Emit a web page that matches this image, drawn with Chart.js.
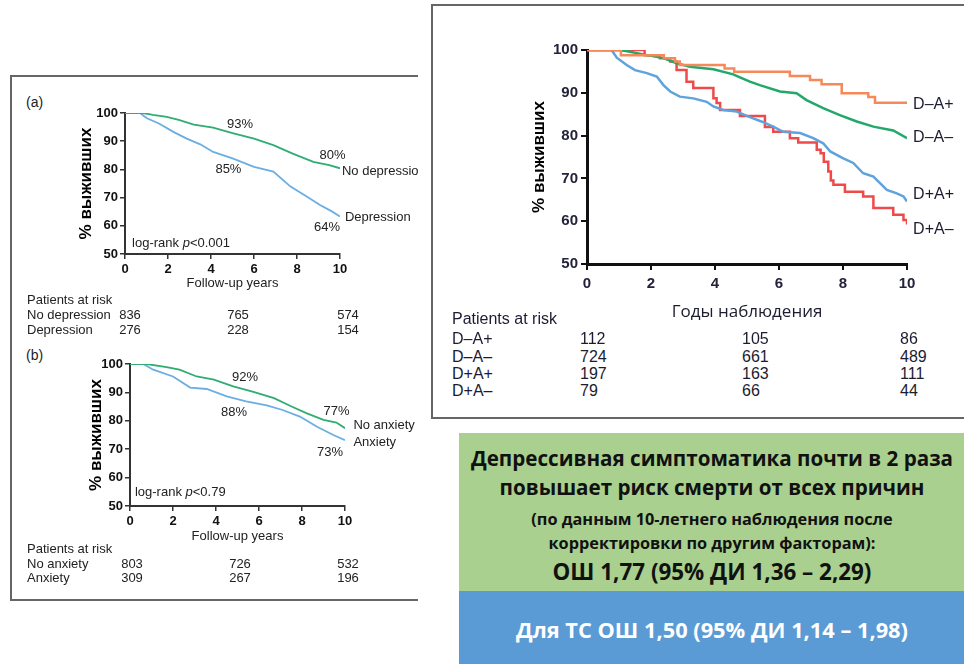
<!DOCTYPE html>
<html lang="ru">
<head>
<meta charset="utf-8">
<script src="https://cdn.jsdelivr.net/npm/chart.js@4.4.0/dist/chart.umd.min.js"></script>
<style>
  body { margin: 0; width: 964px; height: 664px; position: relative; overflow: hidden; background: #fff;
         font-family: 'Liberation Sans', Arial, sans-serif; color: #222; }
  canvas { position: absolute; }
  .t { position: absolute; white-space: nowrap; line-height: 1; }
  .panel { position: absolute; box-sizing: border-box; border-color: #666; border-style: solid; border-width: 0; }
  .box { position: absolute; left: 459px; width: 505px; }
  .bx { font-family: 'Open Sans', 'Noto Sans', sans-serif; font-weight: bold; }
</style>
</head>
<body>

<div class="panel" style="left:10px; top:75px; width:408px; height:526px; border-top-width:2px; border-left-width:2px; border-bottom-width:2px;"></div>
<div class="panel" style="left:431px; top:4px; width:533px; height:415px; border-top-width:2px; border-left-width:2px; border-bottom-width:2px;"></div>

<div class="box" style="top:433px; height:158px; background:#a9d08e;"></div>
<div class="box" style="top:591px; height:73px; background:#5b9bd5;"></div>

<canvas id="chartA" width="358" height="200" style="left:60px; top:95px;"></canvas>
<canvas id="chartB" width="353" height="200" style="left:65px; top:345px;"></canvas>
<canvas id="chartC" width="444" height="295" style="left:520px; top:30px;"></canvas>

<script>
// ---- survival curves, [year, % alive] ----
// (a) depression
const noDepression = [[0,100],[0.85,100],[1.3,99.3],[1.94,98.6],[2.5,97.6],[3.2,95.9],[4.1,94.8],[5.0,92.9],[6.0,90.9],[6.9,88.6],[7.8,85.6],[8.76,82.7],[9.5,81.5],[10,80.4]];
const depression = [[0,100],[0.7,100],[1.0,98.2],[1.6,96.2],[2.25,93.3],[2.87,90.9],[3.5,88.9],[4.1,86.2],[5.0,83.9],[6.0,80.9],[6.9,79.2],[7.7,73.9],[8.45,70.4],[9.07,67.4],[9.6,65.2],[10,63.3]];

// (b) anxiety
const noAnxiety = [[0,100],[0.78,100],[1.7,98.9],[2.3,98.0],[3.1,95.6],[3.9,94.5],[4.8,92.1],[5.7,90.3],[6.7,88.0],[7.44,85.3],[8.2,82.7],[9.0,80.3],[9.6,79.4],[10,77.4]];
const anxiety = [[0,100],[0.62,100],[1.08,98.0],[2.0,95.6],[2.8,91.7],[3.57,91.2],[4.5,88.6],[5.4,86.8],[6.36,85.4],[7.1,83.8],[7.9,81.5],[8.7,77.9],[9.46,75.0],[10,73.2]];

// combined groups
const dMinusAPlus = [[0,100],[1.06,98.8],[2.4,98.1],[2.75,97.3],[2.9,96.5],[4.3,95.7],[4.6,94.9],[6.34,93.9],[6.97,93.0],[7.33,92.0],[7.96,89.9],[8.79,89.0],[9.0,87.7],[10,87.7]];
const dMinusAMinus = [[0,100],[1.03,100],[1.34,99.6],[1.87,98.8],[2.39,98.1],[2.8,96.9],[3.22,96.1],[3.95,95.5],[4.57,94.3],[4.78,93.6],[5.09,92.6],[5.4,91.8],[6.03,90.3],[6.55,89.9],[6.86,88.3],[7.38,86.4],[7.9,84.8],[8.43,83.3],[8.95,82.1],[9.57,81.2],[10,79.4]];
const dPlusAPlus = [[0,100],[0.77,100],[0.93,98.2],[1.24,96.5],[1.5,95.3],[1.87,94.6],[2.18,93.8],[2.39,91.8],[2.6,90.3],[2.9,89.1],[3.32,88.7],[3.74,87.9],[3.95,86.8],[4.26,86.0],[4.68,85.6],[5.09,84.3],[5.45,83.3],[5.82,82.1],[6.13,80.9],[6.66,80.6],[7.07,79.4],[7.38,78.2],[7.6,76.3],[8.01,74.7],[8.32,73.6],[8.63,71.2],[8.95,70.4],[9.37,67.3],[9.68,66.5],[9.89,65.8],[10,64.6]];
const dPlusAMinus = [[0,100],[1.8,98.8],[2.28,98.1],[2.6,97.3],[2.8,95.3],[3.11,92.6],[3.32,91.1],[3.95,88.7],[4.05,87.6],[4.16,86.0],[4.78,84.6],[5.56,82.0],[5.82,80.9],[6.34,79.4],[6.6,78.4],[7.18,76.7],[7.3,75.9],[7.4,73.9],[7.54,71.6],[7.62,69.5],[7.7,68.5],[8.06,66.9],[8.63,65.8],[8.95,63.1],[9.57,61.5],[9.89,60.3],[10,59.2]];

// patients at risk at 0, 5, 10 years
const riskNoDepression = [836, 765, 574];
const riskDepression = [276, 228, 154];
const riskNoAnxiety = [803, 726, 532];
const riskAnxiety = [309, 267, 196];
const riskDmAp = [112, 105, 86];
const riskDmAm = [724, 661, 489];
const riskDpAp = [197, 163, 111];
const riskDpAm = [79, 66, 44];

const ARIAL = "'Liberation Sans', Arial, sans-serif";

// draws the text labels that sit inside / next to the plot, in data coordinates
const kmLabels = {
    id: 'kmLabels',
    afterDatasetsDraw(chart, args, opts) {
        const ctx = chart.ctx;
        const xs = chart.scales.x, ys = chart.scales.y;
        ctx.save();
        ctx.fillStyle = opts.color;
        ctx.textBaseline = 'middle';
        ctx.textAlign = 'left';
        (opts.items || []).forEach(item => {
            const parts = item.parts || [{ t: item.text }];
            const fontFor = p => (p.italic ? 'italic ' : '') + opts.font;
            let w = 0;
            parts.forEach(p => { ctx.font = fontFor(p); w += ctx.measureText(p.t).width; });
            let px = xs.getPixelForValue(item.x);
            const py = ys.getPixelForValue(item.y);
            if (item.align === 'center') px -= w / 2;
            parts.forEach(p => {
                ctx.font = fontFor(p);
                ctx.fillText(p.t, px, py);
                px += ctx.measureText(p.t).width;
            });
        });
        ctx.restore();
    }
};

function kmChart(id, cfg) {
    const ctx = document.getElementById(id).getContext('2d');
    return new Chart(ctx, {
        type: 'line',
        data: {
            datasets: cfg.series.map(s => ({
                data: s.points.map(p => ({ x: p[0], y: p[1] })),
                borderColor: s.color,
                borderWidth: cfg.lineWidth,
                // KM step: keep the old value until the event time, then drop
                stepped: s.stepped ? 'before' : false,
                pointRadius: 0,
                tension: 0,
                fill: false
            }))
        },
        options: {
            responsive: false,
            animation: false,
            devicePixelRatio: 1,
            layout: { padding: cfg.padding },
            plugins: {
                legend: { display: false },
                tooltip: { enabled: false },
                kmLabels: { items: cfg.labels, font: cfg.labelFont, color: cfg.textColor }
            },
            scales: {
                x: {
                    type: 'linear', min: 0, max: 10,
                    ticks: { stepSize: 2, font: cfg.tickFont, color: cfg.tickColor, padding: cfg.xTickPad, maxRotation: 0 },
                    grid: { drawOnChartArea: false, tickLength: cfg.tickLen, color: cfg.axisColor, lineWidth: cfg.tickWidth },
                    border: { color: cfg.axisColor, width: cfg.axisWidth },
                    title: { display: true, text: cfg.xTitle, font: cfg.xTitleFont, color: cfg.textColor, padding: { top: 0, bottom: cfg.xTitlePad } },
                    afterFit: s => { s.height = cfg.xHeight; }
                },
                y: {
                    min: 50, max: 100,
                    ticks: { stepSize: 10, font: cfg.tickFont, color: cfg.tickColor, padding: cfg.yTickPad },
                    grid: { drawOnChartArea: false, tickLength: cfg.tickLen, color: cfg.axisColor, lineWidth: cfg.tickWidth },
                    border: { color: cfg.axisColor, width: cfg.axisWidth },
                    title: { display: true, text: '% выживших', font: cfg.yTitleFont, color: '#000', padding: { top: cfg.yTitlePad, bottom: 0 } },
                    afterFit: s => { s.width = cfg.yWidth; }
                }
            }
        },
        plugins: [kmLabels]
    });
}

const smallLeft = {
    lineWidth: 1.8,
    tickFont: { family: ARIAL, size: 13, weight: 'bold' },
    tickColor: '#111',
    textColor: '#222',
    axisColor: '#333',
    axisWidth: 2,
    tickWidth: 1.5,
    tickLen: 5,
    xTickPad: 3,
    yTickPad: 2,
    labelFont: '13px ' + ARIAL,
    xTitle: 'Follow-up years',
    xTitleFont: { family: ARIAL, size: 13 },
    yTitleFont: { family: ARIAL, size: 17, weight: 'bold' },
    yWidth: 65
};

kmChart('chartA', Object.assign({}, smallLeft, {
    padding: { left: 0, top: 18, right: 78, bottom: 0 },
    xHeight: 41, xTitlePad: 4, yTitlePad: 16,
    series: [
        { points: noDepression, color: '#2fad72' },
        { points: depression, color: '#6aaee3' }
    ],
    labels: [
        { text: '93%', x: 5.35, y: 96.1, align: 'center' },
        { text: '85%', x: 4.81, y: 80.1, align: 'center' },
        { text: '80%', x: 9.65, y: 85.1, align: 'center' },
        { text: 'No depression', x: 10.09, y: 79.4 },
        { text: 'Depression', x: 10.23, y: 62.8 },
        { text: '64%', x: 9.4, y: 59.6, align: 'center' },
        { parts: [{ t: 'log-rank ' }, { t: 'p', italic: true }, { t: '<0.001' }], x: 0.33, y: 53.9 }
    ]
}));

kmChart('chartB', Object.assign({}, smallLeft, {
    padding: { left: 0, top: 19, right: 73, bottom: 0 },
    xHeight: 39, xTitlePad: 1, yTitlePad: 21,
    series: [
        { points: noAnxiety, color: '#2fad72' },
        { points: anxiety, color: '#6aaee3' }
    ],
    labels: [
        { text: '92%', x: 5.35, y: 95.3, align: 'center' },
        { text: '88%', x: 4.84, y: 82.9, align: 'center' },
        { text: '77%', x: 9.61, y: 83.2, align: 'center' },
        { text: 'No anxiety', x: 10.39, y: 78.5 },
        { text: 'Anxiety', x: 10.39, y: 72.3 },
        { text: '73%', x: 9.3, y: 68.8, align: 'center' },
        { parts: [{ t: 'log-rank ' }, { t: 'p', italic: true }, { t: '<0.79' }], x: 0.23, y: 54.9 }
    ]
}));

kmChart('chartC', {
    padding: { left: 0, top: 20, right: 57, bottom: 0 },
    lineWidth: 2.5,
    tickFont: { family: ARIAL, size: 15, weight: 'bold' },
    tickColor: '#22223a',
    textColor: '#1c1c30',
    axisColor: '#111',
    axisWidth: 3,
    tickWidth: 2,
    tickLen: 6,
    xTickPad: 5,
    yTickPad: 3,
    labelFont: '16px ' + ARIAL,
    xTitle: 'Годы наблюдения',
    xTitleFont: { family: "'Open Sans', 'Noto Sans', sans-serif", size: 17 },
    yTitleFont: { family: ARIAL, size: 17, weight: 'bold' },
    xHeight: 61, xTitlePad: 3, yTitlePad: 9, yWidth: 67,
    series: [
        { points: dMinusAPlus, color: '#f5895a', stepped: true },
        { points: dMinusAMinus, color: '#22a86a' },
        { points: dPlusAPlus, color: '#5ea3dc' },
        { points: dPlusAMinus, color: '#ef4a4a', stepped: true }
    ],
    labels: [
        { text: 'D–A+', x: 10.19, y: 87.2 },
        { text: 'D–A–', x: 10.19, y: 79.5 },
        { text: 'D+A+', x: 10.19, y: 66.2 },
        { text: 'D+A–', x: 10.19, y: 58.0 }
    ]
});

// ---- plain text: panel letters, at-risk tables, summary boxes ----
function place(text, x, y, style, anchor) {
    const el = document.createElement('div');
    el.className = 't' + (style.cls ? ' ' + style.cls : '');
    el.textContent = text;
    el.style.left = x + 'px';
    el.style.top = y + 'px';
    el.style.fontSize = style.size + 'px';
    if (style.color) el.style.color = style.color;
    el.style.transform = (anchor === 'center' ? 'translateX(-50%) ' : '') + 'translateY(-50%)';
    document.body.appendChild(el);
}

function riskTable(rows, names, nameX, headY, rowYs, colXs, size, anchor, color) {
    place('Patients at risk', nameX, headY, { size, color });
    rows.forEach((vals, i) => {
        place(names[i], nameX, rowYs[i], { size, color });
        vals.forEach((v, j) => place(String(v), colXs[j], rowYs[i], { size, color }, anchor));
    });
}

place('(a)', 26, 102, { size: 14 });
place('(b)', 26, 355, { size: 14 });

riskTable([riskNoDepression, riskDepression], ['No depression', 'Depression'],
    27, 299, [314, 329], [130, 238, 348], 13, 'center');
riskTable([riskNoAnxiety, riskAnxiety], ['No anxiety', 'Anxiety'],
    27, 548, [563, 577], [132, 240, 348], 13, 'center');
riskTable([riskDmAp, riskDmAm, riskDpAp, riskDpAm], ['D–A+', 'D–A–', 'D+A+', 'D+A–'],
    452, 319, [339, 357, 374, 391], [580, 742, 900], 16, 'left', '#1c1c30');

const boxX = 712;
place('Депрессивная симптоматика почти в 2 раза', boxX, 458, { size: 20.6, cls: 'bx', color: '#111' }, 'center');
place('повышает риск смерти от всех причин', boxX, 487, { size: 20.6, cls: 'bx', color: '#111' }, 'center');
place('(по данным 10-летнего наблюдения после', boxX, 519, { size: 16.3, cls: 'bx', color: '#111' }, 'center');
place('корректировки по другим факторам):', boxX, 543, { size: 16.3, cls: 'bx', color: '#111' }, 'center');
place('ОШ 1,77 (95% ДИ 1,36 – 2,29)', boxX, 572, { size: 22.4, cls: 'bx', color: '#111' }, 'center');
place('Для ТС ОШ 1,50 (95% ДИ 1,14 – 1,98)', boxX, 630, { size: 21.8, cls: 'bx', color: '#fff' }, 'center');
</script>
</body>
</html>
